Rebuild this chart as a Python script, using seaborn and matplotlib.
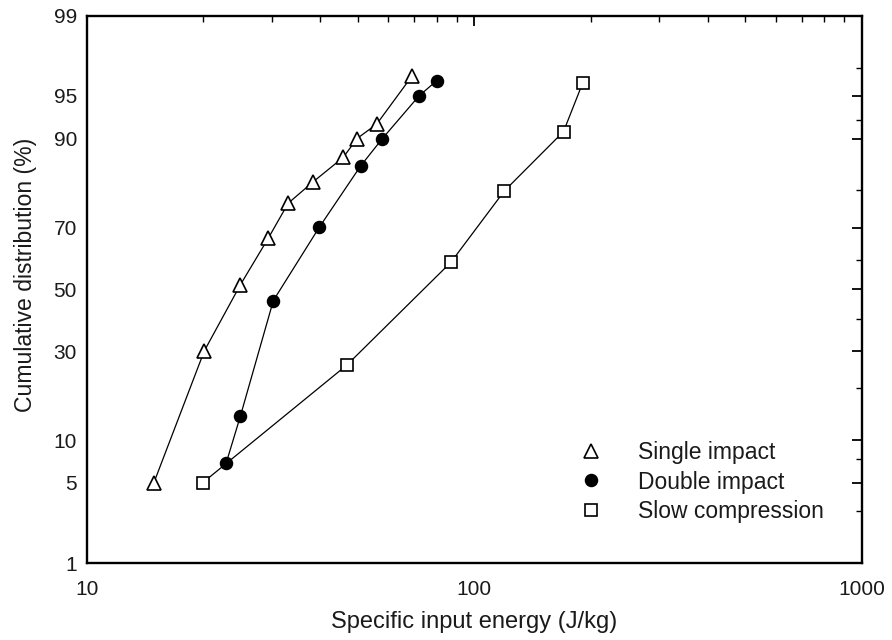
import numpy as np
import pandas as pd
import matplotlib
matplotlib.use("Agg")
import matplotlib.pyplot as plt
from matplotlib.lines import Line2D
from matplotlib.ticker import FixedLocator, FixedFormatter
import seaborn as sns
from statistics import NormalDist

# ---------------- data ----------------
single_energy = [14.9, 20.1, 24.9, 29.4, 33.1, 38.3, 45.9, 49.8, 56.0, 69.0]
single_cum = [5.0, 30.0, 51.5, 66.8, 76.8, 81.9, 86.9, 90.0, 92.0, 96.5]

double_energy = [22.9, 24.9, 30.3, 39.8, 50.9, 57.9, 72.0, 80.0]
double_cum = [7.0, 14.0, 46.2, 70.1, 85.3, 90.0, 95.0, 96.2]

slow_energy = [19.9, 46.9, 87.0, 119.6, 169.8, 190.1]
slow_cum = [5.0, 26.0, 59.1, 79.9, 91.0, 96.0]

series_names = ["Single impact", "Double impact", "Slow compression"]
y_major = [1, 5, 10, 30, 50, 70, 90, 95, 99]
y_minor = [3, 7.5, 20, 40, 60, 80, 92.5, 97]
x_major = [10, 100, 1000]

# ---------------- probability (normal) scale ----------------
_ND = NormalDist()


def _fwd_scalar(p):
    if not np.isfinite(p):
        return np.nan
    q = min(max(p / 100.0, 1e-9), 1 - 1e-9)
    return _ND.inv_cdf(q)


def _inv_scalar(z):
    if not np.isfinite(z):
        return np.nan
    return 100.0 * _ND.cdf(z)


_fwd = np.vectorize(_fwd_scalar, otypes=[float])
_inv = np.vectorize(_inv_scalar, otypes=[float])

# ---------------- style ----------------
sns.set_style("white")
plt.rcParams["font.family"] = ["Liberation Sans", "DejaVu Sans"]
plt.rcParams["axes.linewidth"] = 1.5

fig = plt.figure(figsize=(8.92, 6.4), dpi=100)
ax = fig.add_axes([0.0972, 0.1203, 0.8692, 0.8552])

frames = []
for name, xs, ys in zip(series_names,
                        [single_energy, double_energy, slow_energy],
                        [single_cum, double_cum, slow_cum]):
    frames.append(pd.DataFrame({"energy": xs, "cum": ys, "series": name}))
df = pd.concat(frames, ignore_index=True)

marker_styles = {
    "Single impact": dict(marker="^", markerfacecolor="white", markersize=9.5),
    "Double impact": dict(marker="o", markerfacecolor="black", markersize=8.5),
    "Slow compression": dict(marker="s", markerfacecolor="white", markersize=8),
}

ax.set_xscale("log")
ax.set_yscale("function", functions=(_fwd, _inv))

for name in series_names:
    sub = df[df["series"] == name]
    sns.lineplot(data=sub, x="energy", y="cum", ax=ax, color="black",
                 linewidth=0.9, sort=False, estimator=None,
                 markeredgecolor="black", markeredgewidth=1.2,
                 **marker_styles[name])

ax.set_xlim(10, 1000)
ax.set_ylim(1, 99)

ax.yaxis.set_major_locator(FixedLocator(y_major))
ax.yaxis.set_major_formatter(FixedFormatter([f"{v:g}" for v in y_major]))
ax.yaxis.set_minor_locator(FixedLocator(y_minor))
ax.yaxis.set_minor_formatter(FixedFormatter([""] * len(y_minor)))
ax.xaxis.set_major_locator(FixedLocator(x_major))
ax.xaxis.set_major_formatter(FixedFormatter([f"{v:g}" for v in x_major]))

ax.tick_params(which="both", direction="in", top=True, right=True,
               color="black", labelsize=15, labelcolor="#1a1a1a")
ax.tick_params(which="major", length=7, width=1.3)
ax.tick_params(which="minor", length=4, width=1.0)
ax.tick_params(axis="x", which="major", pad=12)
ax.tick_params(axis="y", which="major", pad=7)

for s in ax.spines.values():
    s.set_color("black")
    s.set_linewidth(1.7)

ax.set_xlabel("Specific input energy (J/kg)", fontsize=17, color="#1a1a1a", labelpad=9)
ax.set_ylabel("Cumulative distribution (%)", fontsize=16.6, color="#1a1a1a")
ax.yaxis.set_label_coords(-0.064, 0.526)

handles = [Line2D([], [], linestyle="none", markeredgecolor="black",
                  markeredgewidth=1.2, **marker_styles[n]) for n in series_names]
leg = ax.legend(handles, series_names, loc="center left",
                bbox_to_anchor=(0.621, 0.148), frameon=False, fontsize=16.5,
                borderpad=0, handlelength=1.0, handletextpad=1.55,
                labelspacing=0.3)
for t in leg.get_texts():
    t.set_color("#1a1a1a")

fig.savefig("out.png", dpi=100, facecolor="white")
